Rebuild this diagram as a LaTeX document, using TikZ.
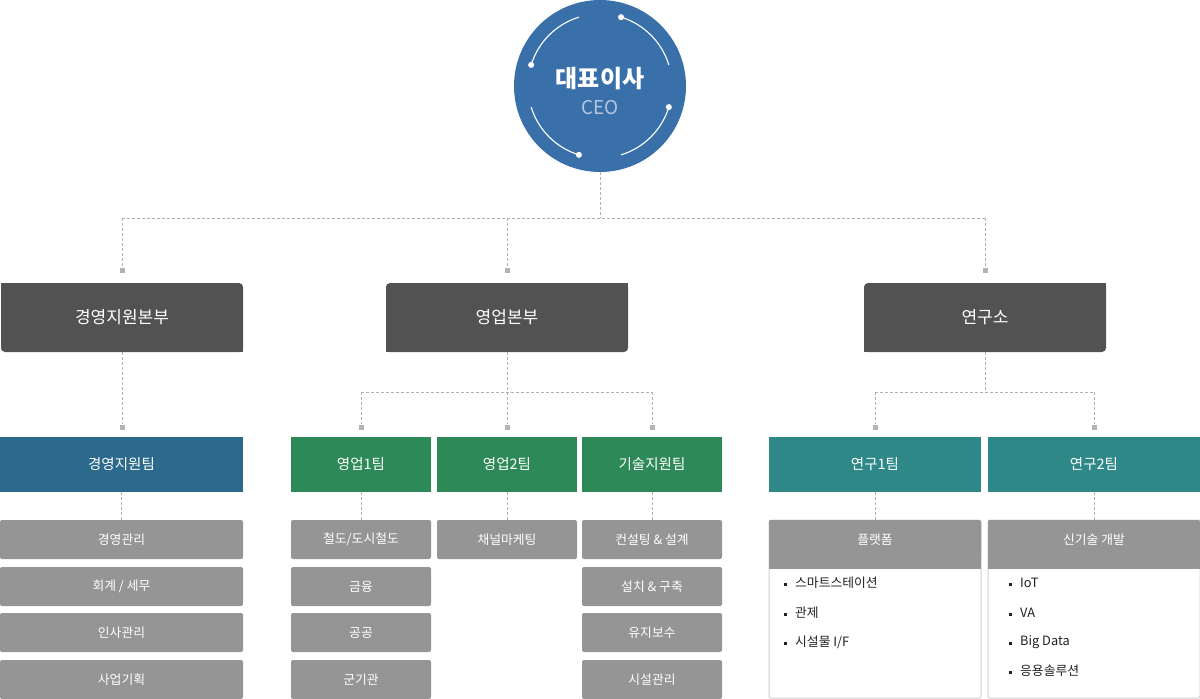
\documentclass[tikz,border=0pt]{standalone}
\usepackage{fontspec}
\setmainfont{Noto Sans CJK KR}
\usetikzlibrary{backgrounds}
\definecolor{ceoblue}{HTML}{3A70AA}
\definecolor{ceosub}{HTML}{B4C6DF}
\definecolor{divgray}{HTML}{525252}
\definecolor{teamblue}{HTML}{2B6A8C}
\definecolor{teamgreen}{HTML}{2D8958}
\definecolor{teamteal}{HTML}{2E8888}
\definecolor{itemgray}{HTML}{959595}
\definecolor{linegray}{HTML}{B0B0B0}
\definecolor{sqgray}{HTML}{B3B3B3}
\definecolor{boxborder}{HTML}{D0D0D0}
\definecolor{listtext}{HTML}{222222}
\begin{document}
\begin{tikzpicture}[x=1pt,y=-1pt,
  conn/.style={draw=linegray, line width=1pt, dash pattern=on 3pt off 2pt},
  sq/.style={fill=sqgray, minimum size=5pt, inner sep=0pt},
  divbox/.style={fill=divgray, rounded corners=4pt, minimum width=242pt, minimum height=69pt, inner sep=0pt, text=white, font=\fontsize{17}{18}\selectfont},
  teambox/.style={minimum height=55pt, inner sep=0pt, text=white, font=\fontsize{14.5}{16}\selectfont},
  itembox/.style={fill=itemgray, rounded corners=2pt, minimum height=39pt, inner sep=0pt, text=white, font=\fontsize{12.8}{14}\selectfont},
  listitem/.style={anchor=west, inner sep=0pt, text=listtext, font=\fontsize{12.8}{14}\selectfont},
  bullet/.style={fill=listtext, minimum size=3pt, inner sep=0pt},
]
\useasboundingbox (0,0) rectangle (1200,699);

% CEO
\node[circle, fill=ceoblue, minimum size=172pt, inner sep=0pt] (ceo) at (600,86) {};
\node[text=white, font=\fontsize{24}{26}\selectfont\bfseries] (ceotitle) at (600,79) {대표이사};
\node[text=ceosub, font=\fontsize{19}{20}\selectfont] (ceosubtitle) at (600,108) {CEO};
\begin{scope}[shift={(ceo.center)}]
  \draw[white, line width=1.1pt] (73:72pt) arc[start angle=73, end angle=17, radius=72pt];
  \draw[white, line width=1.1pt] (-17:72pt) arc[start angle=-17, end angle=-73, radius=72pt];
  \draw[white, line width=1.1pt] (-107:72pt) arc[start angle=-107, end angle=-163, radius=72pt];
  \draw[white, line width=1.1pt] (163:72pt) arc[start angle=163, end angle=107, radius=72pt];
  \fill[white] (73:72pt) circle (3pt);
  \fill[white] (-17:72pt) circle (3pt);
  \fill[white] (-107:72pt) circle (3pt);
  \fill[white] (163:72pt) circle (3pt);
\end{scope}

% Divisions
\node[divbox] (d1) at (122,317.5) {경영지원본부};
\node[divbox] (d2) at (507,317.5) {영업본부};
\node[divbox] (d3) at (985,317.5) {연구소};
\begin{scope}[on background layer]
  \fill[divgray] (d1.north west) rectangle ++(5,5);
  \fill[divgray] (d1.south east) rectangle ++(-5,-5);
  \fill[divgray] (d2.north east) rectangle ++(-5,5);
  \fill[divgray] (d2.south west) rectangle ++(5,-5);
  \fill[divgray] (d3.north east) rectangle ++(-5,5);
  \fill[divgray] (d3.south west) rectangle ++(5,-5);
\end{scope}

% CEO -> divisions
\coordinate (b0) at (600,218);
\node[sq] (q1) at (122,270) {};
\node[sq] (q2) at (507,270) {};
\node[sq] (q3) at (985,270) {};
\draw[conn] (ceo.south) -- (b0);
\draw[conn] (q1 |- b0) -- (q3 |- b0);
\draw[conn] (q1 |- b0) -- (q1.north);
\draw[conn] (q2 |- b0) -- (q2.north);
\draw[conn] (q3 |- b0) -- (q3.north);

% Teams
\node[teambox, fill=teamblue, minimum width=243pt] (t1) at (121.5,464.5) {경영지원팀};
\node[teambox, fill=teamgreen, minimum width=140pt] (s1) at (361,464.5) {영업1팀};
\node[teambox, fill=teamgreen, minimum width=140pt] (s2) at (507,464.5) {영업2팀};
\node[teambox, fill=teamgreen, minimum width=140pt] (s3) at (652,464.5) {기술지원팀};
\node[teambox, fill=teamteal, minimum width=212pt] (r1) at (875,464.5) {연구1팀};
\node[teambox, fill=teamteal, minimum width=212pt] (r2) at (1094,464.5) {연구2팀};

% Divisions -> teams
\node[sq] (q4) at (122,427) {};
\draw[conn] (d1.south) -- (q4.north);
\coordinate (b2) at (507,392);
\node[sq] (q5) at (361,427) {};
\node[sq] (q6) at (507,427) {};
\node[sq] (q7) at (652,427) {};
\draw[conn] (d2.south) -- (b2);
\draw[conn] (q5 |- b2) -- (q7 |- b2);
\draw[conn] (q5 |- b2) -- (q5.north);
\draw[conn] (q6 |- b2) -- (q6.north);
\draw[conn] (q7 |- b2) -- (q7.north);
\coordinate (b3) at (985,392);
\node[sq] (q8) at (875,427) {};
\node[sq] (q9) at (1094,427) {};
\draw[conn] (d3.south) -- (b3);
\draw[conn] (q8 |- b3) -- (q9 |- b3);
\draw[conn] (q8 |- b3) -- (q8.north);
\draw[conn] (q9 |- b3) -- (q9.north);

% Items: management
\node[itembox, minimum width=243pt] (i11) at (121.5,539.5) {경영관리};
\node[itembox, minimum width=243pt] (i12) at (121.5,586.5) {회계 / 세무};
\node[itembox, minimum width=243pt] (i13) at (121.5,632.5) {인사관리};
\node[itembox, minimum width=243pt] (i14) at (121.5,679.5) {사업기획};
% Sales 1
\node[itembox, minimum width=140pt] (i21) at (361,539.5) {철도/도시철도};
\node[itembox, minimum width=140pt] (i22) at (361,586.5) {금융};
\node[itembox, minimum width=140pt] (i23) at (361,632.5) {공공};
\node[itembox, minimum width=140pt] (i24) at (361,679.5) {군기관};
% Sales 2
\node[itembox, minimum width=140pt] (i31) at (507,539.5) {채널마케팅};
% Tech support
\node[itembox, minimum width=140pt] (i41) at (652,539.5) {컨설팅 \& 설계};
\node[itembox, minimum width=140pt] (i42) at (652,586.5) {설치 \& 구축};
\node[itembox, minimum width=140pt] (i43) at (652,632.5) {유지보수};
\node[itembox, minimum width=140pt] (i44) at (652,679.5) {시설관리};

% Research panels
\node[draw=boxborder, line width=1pt, fill=white, rounded corners=2pt, minimum width=212pt, minimum height=178pt, inner sep=0pt] (pb1) at (875,609) {};
\node[draw=boxborder, line width=1pt, fill=white, rounded corners=2pt, minimum width=212pt, minimum height=178pt, inner sep=0pt] (pb2) at (1094,609) {};
\fill[itemgray] ([yshift=-5pt]pb1.north west) rectangle ++(212,44);
\fill[itemgray] ([yshift=-5pt]pb2.north west) rectangle ++(212,44);
\node[itembox, minimum width=212pt] (p1) at (875,539.5) {플랫폼};
\node[itembox, minimum width=212pt] (p2) at (1094,539.5) {신기술 개발};

\node[bullet] (u1) at (785,584) {};
\node[listitem] (l1) at (795,583) {스마트스테이션};
\node[bullet] (u2) at (785,614) {};
\node[listitem] (l2) at (795,613) {관제};
\node[bullet] (u3) at (785,643) {};
\node[listitem] (l3) at (795,642) {시설물 I/F};

\node[bullet] (v1) at (1010,584) {};
\node[listitem] (m1) at (1020,583) {IoT};
\node[bullet] (v2) at (1010,614) {};
\node[listitem] (m2) at (1020,613) {VA};
\node[bullet] (v3) at (1010,643) {};
\node[listitem] (m3) at (1020,642) {Big Data};
\node[bullet] (v4) at (1010,672) {};
\node[listitem] (m4) at (1020,671) {응용솔루션};

% Teams -> items
\draw[conn] (t1.south) -- (i11.north);
\draw[conn] (s1.south) -- (i21.north);
\draw[conn] (s2.south) -- (i31.north);
\draw[conn] (s3.south) -- (i41.north);
\draw[conn] (r1.south) -- (p1.north);
\draw[conn] (r2.south) -- (p2.north);
\end{tikzpicture}
\end{document}
